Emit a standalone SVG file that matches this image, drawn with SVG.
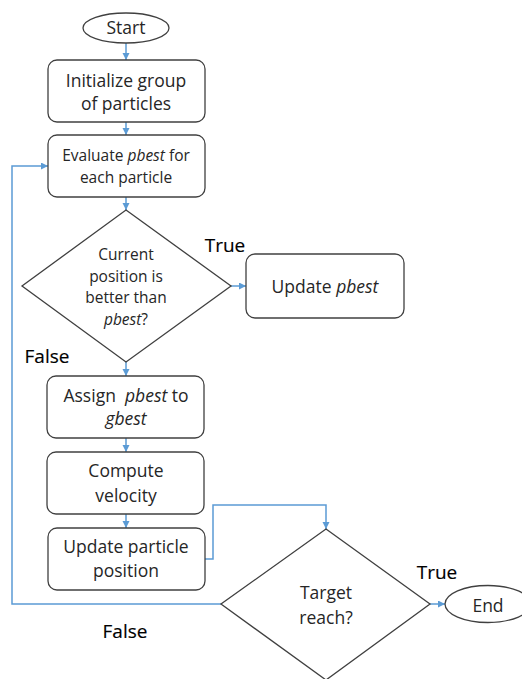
<svg xmlns="http://www.w3.org/2000/svg" width="522" height="679" viewBox="0 0 522 679">
<style>
.shape{fill:#fff;stroke:#404040;stroke-width:1.3}
.conn{fill:none;stroke:#5b9bd5;stroke-width:1.5}
text{font-family:"Open Sans","Liberation Sans",sans-serif;fill:#262626;text-anchor:middle}
.t{font-size:17.5px}
.s{font-size:15.5px}
.lbl{font-size:19px;fill:#000;stroke:#000;stroke-width:0.15}
.i{font-style:italic}
</style>
<defs>
<marker id="arr" markerUnits="userSpaceOnUse" markerWidth="8" markerHeight="8" refX="7" refY="3.5" orient="auto">
<path d="M0,0 L7,3.5 L0,7 z" fill="#5b9bd5"/>
</marker>
</defs>
<rect width="522" height="679" fill="#fff"/>
<g id="connectors">
<path class="conn" marker-end="url(#arr)" d="M126,43 V60"/>
<path class="conn" marker-end="url(#arr)" d="M126,122 V135"/>
<path class="conn" marker-end="url(#arr)" d="M126,197 V210"/>
<path class="conn" marker-end="url(#arr)" d="M231,286 H246"/>
<path class="conn" marker-end="url(#arr)" d="M126,362 V376"/>
<path class="conn" marker-end="url(#arr)" d="M126,438 V452"/>
<path class="conn" marker-end="url(#arr)" d="M126,514 V528"/>
<path class="conn" marker-end="url(#arr)" d="M205,559 H213 V505 H326 V529"/>
<path class="conn" marker-end="url(#arr)" d="M430,604 H445"/>
<path class="conn" marker-end="url(#arr)" d="M221,604 H12 V166 H48"/>
</g>
<g id="start">
<ellipse class="shape" cx="126" cy="28" rx="43" ry="15"/>
<text class="t" x="126" y="34">Start</text>
</g>
<g id="init">
<rect class="shape" x="48" y="60" width="157" height="62" rx="9"/>
<text class="t" x="126" y="87">Initialize group</text>
<text class="t" x="126" y="110">of particles</text>
</g>
<g id="evaluate">
<rect class="shape" x="48" y="135" width="157" height="62" rx="9"/>
<text class="s" x="126" y="161">Evaluate <tspan class="i">pbest</tspan> for</text>
<text class="s" x="126" y="183">each particle</text>
</g>
<g id="decision1">
<polygon class="shape" points="126,210 231,286 126,362 22,286"/>
<text class="s" x="126" y="260">Current</text>
<text class="s" x="126" y="282">position is</text>
<text class="s" x="126" y="303">better than</text>
<text class="s" x="126" y="325"><tspan class="i">pbest</tspan>?</text>
</g>
<g id="update-pbest">
<rect class="shape" x="246" y="254" width="158" height="64" rx="9"/>
<text class="t" x="325" y="293">Update <tspan class="i">pbest</tspan></text>
</g>
<g id="assign">
<rect class="shape" x="47" y="376" width="157" height="62" rx="9"/>
<text class="t" x="126" y="402" xml:space="preserve">Assign  <tspan class="i">pbest</tspan> to</text>
<text class="t i" x="126" y="425">gbest</text>
</g>
<g id="compute">
<rect class="shape" x="47" y="452" width="157" height="62" rx="9"/>
<text class="t" x="126" y="477">Compute</text>
<text class="t" x="126" y="502">velocity</text>
</g>
<g id="update-pos">
<rect class="shape" x="48" y="528" width="157" height="62" rx="9"/>
<text class="t" x="126" y="553">Update particle</text>
<text class="t" x="126" y="577">position</text>
</g>
<g id="decision2">
<polygon class="shape" points="326,529 430,604 326,680 221,604"/>
<text class="t" x="326" y="599">Target</text>
<text class="t" x="326" y="624">reach?</text>
</g>
<g id="end">
<ellipse class="shape" cx="488" cy="604" rx="43" ry="18.5"/>
<text class="t" x="488" y="612">End</text>
</g>
<g id="labels">
<text class="lbl" x="225" y="252">True</text>
<text class="lbl" x="47" y="363">False</text>
<text class="lbl" x="437" y="579">True</text>
<text class="lbl" x="125" y="638">False</text>
</g>
</svg>
